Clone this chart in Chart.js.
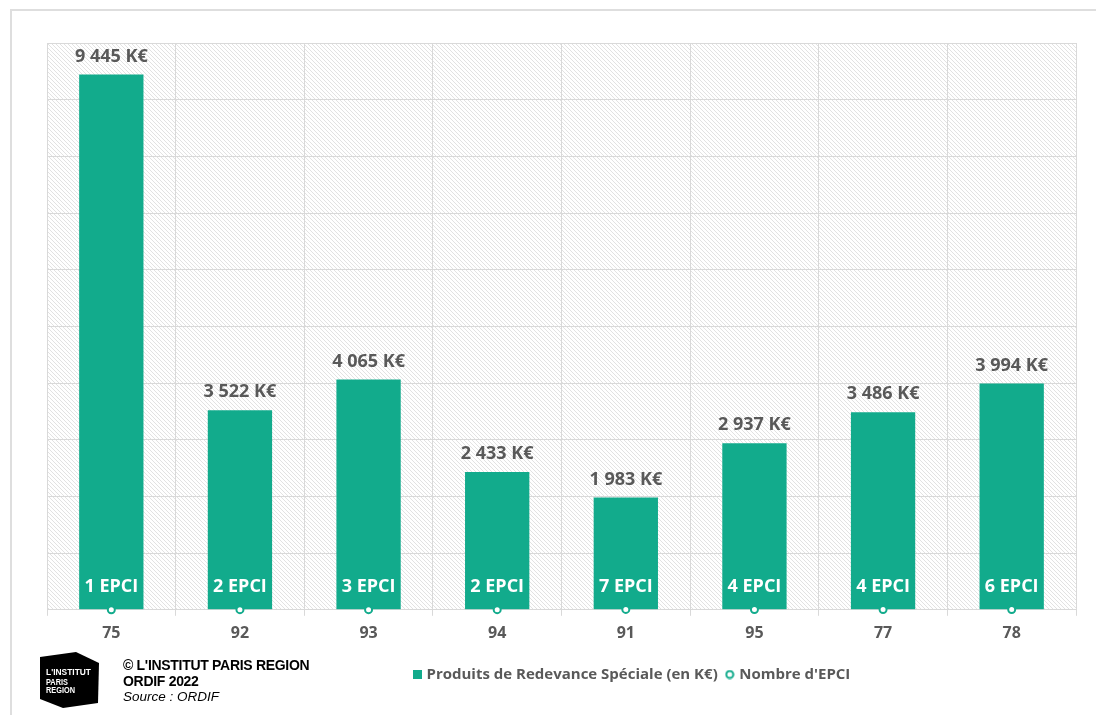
<!DOCTYPE html>
<html lang="fr">
<head>
<meta charset="utf-8">
<title>Produits de Redevance Spéciale par département</title>
<script src="https://cdn.jsdelivr.net/npm/chart.js@4/dist/chart.umd.min.js"></script>
<style>
  html, body { margin: 0; padding: 0; background: #fff; width: 1096px; height: 715px; overflow: hidden; }
  #frame { position: absolute; left: 10px; top: 9px; width: 1200px; height: 800px;
           border-left: 2px solid #dedede; border-top: 2px solid #dedede; }
  #chart { position: absolute; left: 0; top: 0; }
  #logo { position: absolute; left: 38px; top: 650px; }
  #credit { position: absolute; left: 123px; top: 658px; color: #000;
            font-family: "Liberation Sans", Arial, sans-serif; font-size: 14px; line-height: 15.5px; }
  #credit b { display: block; letter-spacing: -0.3px; }
  #credit i { display: block; font-size: 13.5px; }
</style>
</head>
<body>
<div id="frame"></div>
<canvas id="chart" width="1096" height="715"></canvas>

<svg id="logo" width="64" height="62" viewBox="0 0 64 62">
  <polygon points="2,7 38,2 61,13 60,53 25,58 2,49" fill="#000"/>
  <text x="8" y="25" fill="#fff" font-family="Liberation Sans, Arial, sans-serif" font-weight="bold" font-size="9" textLength="45" lengthAdjust="spacingAndGlyphs">L'INSTITUT</text>
  <text x="8" y="35" fill="#fff" font-family="Liberation Sans, Arial, sans-serif" font-weight="bold" font-size="8.5" textLength="22" lengthAdjust="spacingAndGlyphs">PARIS</text>
  <text x="8" y="43" fill="#fff" font-family="Liberation Sans, Arial, sans-serif" font-weight="bold" font-size="8.5" textLength="29" lengthAdjust="spacingAndGlyphs">REGION</text>
</svg>

<div id="credit">
  <b>© L'INSTITUT PARIS REGION</b>
  <b>ORDIF 2022</b>
  <i>Source : ORDIF</i>
</div>

<script>
// Départements (axe des abscisses)
const departements = ['75', '92', '93', '94', '91', '95', '77', '78'];
// Produits de Redevance Spéciale, en K€
const redevance = [9445, 3522, 4065, 2433, 1983, 2937, 3486, 3994];
// Nombre d'EPCI par département
const nbEpci = [1, 2, 3, 2, 7, 4, 4, 6];
// Graduation de l'axe vertical (non affichée)
const axeMin = 0;
const axeMax = 10000;
const axePas = 1000;

const VERT = '#12AB8C';
const GRIS_TEXTE = '#595959';
const GRIS_GRILLE = '#d9d9d9';
const POLICE = '"Open Sans", "Noto Sans", sans-serif';

function formatMilliers(n) {
  return String(n).replace(/\B(?=(\d{3})+(?!\d))/g, ' ');
}

// Motif hachuré du fond de la zone de tracé
function motifHachure(ctx) {
  const c = document.createElement('canvas');
  c.width = 4; c.height = 4;
  const g = c.getContext('2d');
  g.fillStyle = '#fff';
  g.fillRect(0, 0, 4, 4);
  g.fillStyle = '#e2e2e2';
  for (let i = 0; i < 4; i++) g.fillRect(i, i, 1, 1);
  return ctx.createPattern(c, 'repeat');
}

// Pictogrammes de la légende
function pictoCarre() {
  const c = document.createElement('canvas');
  c.width = 9; c.height = 9;
  const g = c.getContext('2d');
  g.fillStyle = VERT;
  g.fillRect(0, 0, 9, 9);
  return c;
}
function pictoRond() {
  const c = document.createElement('canvas');
  c.width = 10; c.height = 10;
  const g = c.getContext('2d');
  g.beginPath();
  g.arc(5, 5, 3.5, 0, Math.PI * 2);
  g.fillStyle = '#fff';
  g.fill();
  g.lineWidth = 2;
  g.strokeStyle = VERT;
  g.stroke();
  return c;
}
const pictos = [pictoCarre(), pictoRond()];

const fondHachure = {
  id: 'fondHachure',
  beforeDraw(chart) {
    const { ctx, chartArea: a } = chart;
    ctx.save();
    ctx.fillStyle = motifHachure(ctx);
    ctx.fillRect(a.left, a.top, a.right - a.left, a.bottom - a.top);
    ctx.restore();
  }
};

// Légende placée sous le graphique, décalée vers la droite
const placementLegende = {
  id: 'placementLegende',
  afterLayout(chart) {
    const lg = chart.legend;
    if (!lg) return;
    const w = lg.right - lg.left;
    const h = lg.bottom - lg.top;
    lg.left = 405;
    lg.right = lg.left + w;
    lg.top = 657;
    lg.bottom = lg.top + h;
  }
};

const etiquettes = {
  id: 'etiquettes',
  afterDatasetsDraw(chart) {
    const ctx = chart.ctx;
    ctx.save();
    ctx.textAlign = 'center';
    ctx.textBaseline = 'middle';
    ctx.font = 'bold 18px ' + POLICE;
    ctx.fillStyle = GRIS_TEXTE;
    const barres = chart.getDatasetMeta(0).data;
    const valeurs = chart.data.datasets[0].data;
    barres.forEach((b, i) => {
      ctx.fillText(formatMilliers(valeurs[i]) + ' K€', b.x, b.y - 18);
    });
    ctx.fillStyle = '#fff';
    const points = chart.getDatasetMeta(1).data;
    const nb = chart.data.datasets[1].data;
    points.forEach((p, i) => {
      ctx.fillText(nb[i] + ' EPCI', p.x, p.y - 23);
    });
    ctx.restore();
  }
};

new Chart(document.getElementById('chart'), {
  data: {
    labels: departements,
    datasets: [
      {
        type: 'bar',
        label: 'Produits de Redevance Spéciale (en K€)',
        data: redevance,
        backgroundColor: VERT,
        borderWidth: 0,
        barPercentage: 0.5,
        categoryPercentage: 1.0,
        order: 2
      },
      {
        type: 'line',
        label: "Nombre d'EPCI",
        data: nbEpci,
        showLine: false,
        pointRadius: 3.5,
        pointHoverRadius: 3.5,
        pointBorderWidth: 2,
        pointBackgroundColor: '#fff',
        pointBorderColor: VERT,
        borderColor: VERT,
        backgroundColor: '#fff',
        clip: false,
        order: 1
      }
    ]
  },
  options: {
    responsive: false,
    animation: false,
    devicePixelRatio: 1,
    layout: { padding: { left: 47, right: 20, top: 43, bottom: 29 } },
    scales: {
      x: {
        grid: { color: GRIS_GRILLE, lineWidth: 1, offset: true, tickLength: 6 },
        border: { color: GRIS_GRILLE, width: 1 },
        ticks: { color: GRIS_TEXTE, padding: 8, font: { family: POLICE, size: 16, weight: 'bold' } }
      },
      y: {
        min: axeMin,
        max: axeMax,
        ticks: { display: false, stepSize: axePas },
        grid: { color: GRIS_GRILLE, lineWidth: 1, drawTicks: false },
        border: { display: false }
      }
    },
    plugins: {
      tooltip: { enabled: false },
      legend: {
        position: 'bottom',
        align: 'start',
        labels: {
          usePointStyle: true,
          boxWidth: 4,
          boxHeight: 15,
          padding: 10,
          color: GRIS_TEXTE,
          font: { family: POLICE, size: 15, weight: 'bold' },
          generateLabels(chart) {
            return chart.data.datasets.map((ds, i) => ({
              text: ds.label,
              datasetIndex: i,
              pointStyle: pictos[i],
              fillStyle: VERT,
              strokeStyle: VERT,
              lineWidth: 0,
              hidden: false,
              fontColor: GRIS_TEXTE
            }));
          }
        }
      }
    }
  },
  plugins: [fondHachure, placementLegende, etiquettes]
});
</script>
</body>
</html>
